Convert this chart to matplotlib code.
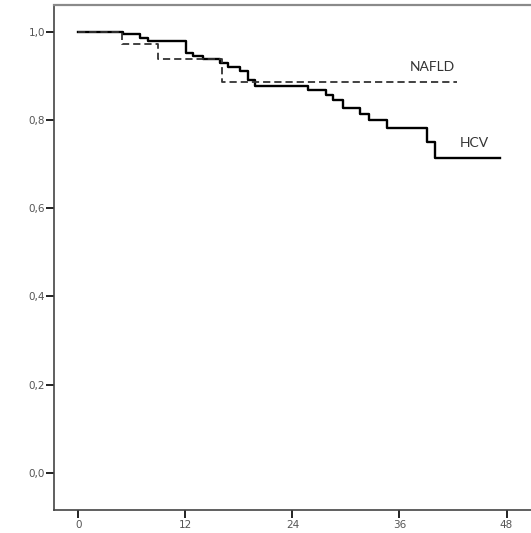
import matplotlib.pyplot as plt

# Kaplan-Meier style step curves (months, survival fraction)
hcv_time = [0, 5.0, 6.9, 7.8, 12.1, 12.9, 14.0, 15.9, 16.8, 18.1, 19.0, 19.8,
            25.8, 27.8, 28.6, 29.7, 31.6, 32.6, 34.6, 39.1, 40.0, 47.3]
hcv_surv = [1.0, 0.995, 0.986, 0.978, 0.952, 0.944, 0.938, 0.929, 0.921, 0.912,
            0.891, 0.876, 0.867, 0.857, 0.845, 0.827, 0.813, 0.80, 0.781, 0.751,
            0.713, 0.713]

nafld_time = [0, 4.9, 8.9, 16.1, 42.4]
nafld_surv = [1.0, 0.973, 0.938, 0.886, 0.886]

x_ticks = [0, 12, 24, 36, 48]
y_ticks = [0.0, 0.2, 0.4, 0.6, 0.8, 1.0]
y_tick_labels = ["0,0", "0,2", "0,4", "0,6", "0,8", "1,0"]

fig = plt.figure(figsize=(5.31, 5.33), dpi=100)
ax = fig.add_axes([0.1017, 0.043, 0.906, 0.948])

ax.step(hcv_time, hcv_surv, where="post", color="black", linewidth=1.7)
ax.step(nafld_time, nafld_surv, where="post", color="#333333", linewidth=1.3,
        dashes=(4, 2.2))

ax.text(37.1, 0.921, "NAFLD", fontsize=10, family="Lato", color="#333333",
        va="center", ha="left")
ax.text(42.8, 0.747, "HCV", fontsize=10, family="Lato", color="#333333",
        va="center", ha="left")

ax.set_xlim(-2.72, 51.2)
ax.set_ylim(-0.084, 1.061)
ax.set_xticks(x_ticks)
ax.set_xticklabels([str(t) for t in x_ticks])
ax.set_yticks(y_ticks)
ax.set_yticklabels(y_tick_labels)
ax.tick_params(axis="both", labelsize=7.5, labelcolor="#555555", color="#222222",
               direction="out", length=5.5, width=1.4, pad=1)
ax.tick_params(axis="x", pad=2)

for side in ["left", "bottom"]:
    ax.spines[side].set_color("#444444")
    ax.spines[side].set_linewidth(1.2)
ax.spines["top"].set_color("#8a8a8a")
ax.spines["top"].set_linewidth(1.6)
ax.spines["right"].set_visible(False)

plt.savefig("out.png", dpi=100)
plt.close()
